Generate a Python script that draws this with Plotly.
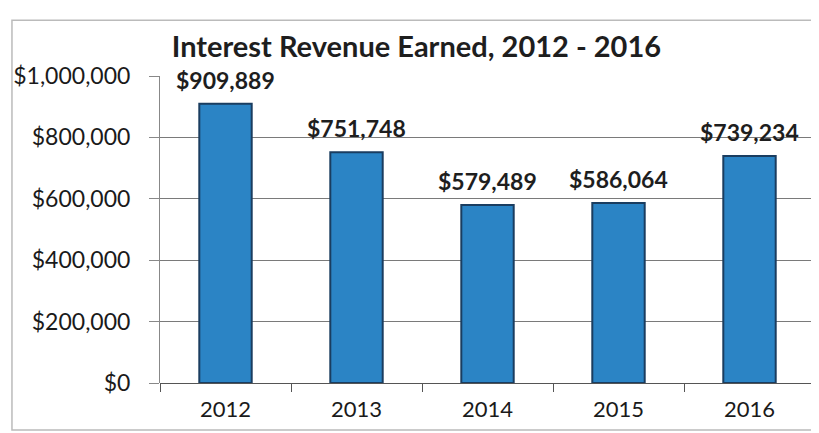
import plotly.graph_objects as go

years = ["2012", "2013", "2014", "2015", "2016"]
revenue = [909889, 751748, 579489, 586064, 739234]
labels = ["$909,889", "$751,748", "$579,489", "$586,064", "$739,234"]
tick_vals = [0, 200000, 400000, 600000, 800000, 1000000]
tick_text = ["$0", "$200,000", "$400,000", "$600,000", "$800,000", "$1,000,000"]
title_text = "Interest Revenue Earned, 2012 - 2016"

FONT = "Lato"

fig = go.Figure()
fig.add_trace(go.Bar(
    x=years, y=revenue,
    marker=dict(color="#2B84C5", line=dict(color="#1A3D60", width=2)),
    width=0.4,
    hoverinfo="skip",
))

for i, (v, lab) in enumerate(zip(revenue, labels)):
    fig.add_annotation(x=i, y=v, xref="x", yref="y",
                       text="<b>" + lab + "</b>", showarrow=False,
                       yanchor="bottom", yshift=8,
                       font=dict(family=FONT, size=23, color="#1e1e1e"))

fig.update_layout(
    width=811, height=425,
    margin=dict(l=152, r=4, t=68, b=50),
    paper_bgcolor="white", plot_bgcolor="white",
    showlegend=False,
    title=dict(text="<b>" + title_text + "</b>", xref="paper", x=0.018,
               xanchor="left", y=0.908, yanchor="middle",
               font=dict(family=FONT, size=29, color="#1e1e1e")),
    xaxis=dict(
        type="category", range=[-0.5, 4.5], tickson="boundaries",
        ticks="outside", ticklen=8,
        tickcolor="#555555", showline=False, showgrid=False,
        tickfont=dict(family=FONT, size=22, color="#1a1a1a"),
        ticklabelstandoff=11,
    ),
    yaxis=dict(
        range=[0, 1000000], tickvals=tick_vals, ticktext=tick_text,
        showgrid=True, gridcolor="#7a7a7a", gridwidth=1,
        showline=True, linecolor="#888888", linewidth=1,
        ticks="outside", ticklen=10, tickcolor="#888888",
        tickfont=dict(family=FONT, size=23, color="#1a1a1a"),
        zeroline=True, zerolinecolor="#555555", zerolinewidth=1,
        ticklabelstandoff=14,
    ),
    shapes=[dict(type="rect", xref="paper", yref="paper",
                 x0=-0.226, x1=1.006, y0=-0.153, y1=1.182,
                 line=dict(color="#bbbbbb", width=1.5))],
)

fig.write_html("out.html")
